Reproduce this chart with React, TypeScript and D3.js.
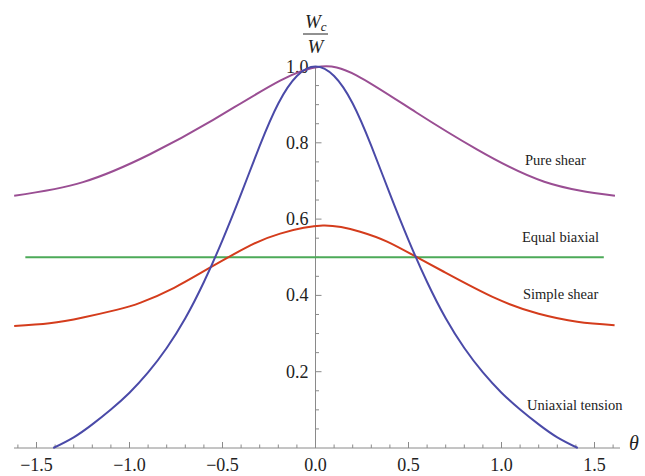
import React from "react";
import * as d3 from "d3";

// Angle samples (θ, radians) and ratio W_c / W for each loading mode
const uniaxialTheta = [-1.41, -1.3, -1.2, -1.1, -1.0, -0.9, -0.8, -0.7, -0.6, -0.5, -0.4, -0.3, -0.2, -0.1, 0, 0.1, 0.2, 0.3, 0.4, 0.5, 0.6, 0.7, 0.8, 0.9, 1.0, 1.1, 1.2, 1.3, 1.41];
const uniaxialValues = [0, 0.028, 0.062, 0.101, 0.145, 0.198, 0.262, 0.34, 0.435, 0.545, 0.666, 0.792, 0.903, 0.975, 1.0, 0.975, 0.903, 0.792, 0.666, 0.545, 0.435, 0.34, 0.262, 0.198, 0.145, 0.101, 0.062, 0.028, 0];

const pureShearTheta = [-1.62, -1.25, -0.89, -0.55, -0.19, 0.03, 0.22, 0.54, 0.87, 1.23, 1.61];
const pureShearValues = [0.661, 0.697, 0.77, 0.86, 0.963, 1.0, 0.977, 0.88, 0.782, 0.698, 0.661];

const simpleShearTheta = [-1.62, -1.43, -1.25, -1.07, -0.94, -0.76, -0.57, -0.35, -0.19, 0.04, 0.24, 0.385, 0.538, 0.69, 0.97, 1.2, 1.407, 1.608];
const simpleShearValues = [0.32, 0.327, 0.342, 0.362, 0.381, 0.42, 0.472, 0.531, 0.562, 0.583, 0.567, 0.541, 0.502, 0.462, 0.392, 0.352, 0.331, 0.322];

const equalBiaxialTheta = [-1.56, 1.55];
const equalBiaxialValues = [0.5, 0.5];

const seriesNames = ["Pure shear", "Equal biaxial", "Simple shear", "Uniaxial tension"];

const xTickValues = [-1.5, -1.0, -0.5, 0.0, 0.5, 1.0, 1.5];
const yTickValues = [0.2, 0.4, 0.6, 0.8, 1.0];

const WIDTH = 645;
const HEIGHT = 476;
const SERIF = "'Liberation Serif', 'Times New Roman', serif";

export default function App() {
  const x = d3.scaleLinear().domain([-1.5, 1.5]).range([36.5, 594.5]);
  const y = d3.scaleLinear().domain([0, 1]).range([448, 66.5]);

  const makeLine = (ts: number[], vs: number[]) =>
    d3
      .line<number>()
      .x((_, i) => x(ts[i]))
      .y((v) => y(v))
      .curve(d3.curveNatural)(vs) as string;

  const series = [
    { ts: pureShearTheta, vs: pureShearValues, color: "#9a4e93" },
    { ts: equalBiaxialTheta, vs: equalBiaxialValues, color: "#4caa58" },
    { ts: simpleShearTheta, vs: simpleShearValues, color: "#d43c1c" },
    { ts: uniaxialTheta, vs: uniaxialValues, color: "#4a4aa8" },
  ];

  const labelPos = [
    { x: 525, y: 165 },
    { x: 522, y: 242 },
    { x: 523, y: 299 },
    { x: 527, y: 410 },
  ];

  const x0 = x(0);
  const y0 = y(0);
  const axisColor = "#8a8a8a";

  const xMinor = d3.range(-16, 17).map((k) => k / 10).filter((v) => Math.abs((v * 2) % 1) > 1e-6);
  const yMinor = d3.range(1, 20).map((k) => k / 20).filter((v) => Math.abs((v * 5) % 1) > 1e-6 && Math.abs((v * 5) % 1 - 1) > 1e-6);

  return (
    <svg
      width={WIDTH}
      height={HEIGHT}
      style={{ position: "absolute", left: 0, top: 0, background: "#fff" }}
      fontFamily={SERIF}
    >
      {/* axes */}
      <line x1={14} x2={620} y1={y0} y2={y0} stroke={axisColor} strokeWidth={1} />
      <line x1={x0} x2={x0} y1={y0} y2={y(1)} stroke={axisColor} strokeWidth={1} />

      {/* x ticks */}
      {xTickValues.map((t) => (
        <line key={"xt" + t} x1={x(t)} x2={x(t)} y1={y0} y2={y0 - 6} stroke={axisColor} />
      ))}
      {xMinor.map((t) => (
        <line key={"xm" + t} x1={x(t)} x2={x(t)} y1={y0} y2={y0 - 3.5} stroke={axisColor} />
      ))}
      {xTickValues.map((t) => (
        <text key={"xl" + t} x={x(t)} y={471} textAnchor="middle" fontSize={18} fill="#222">
          {(t < 0 ? "\u2212" : "") + Math.abs(t).toFixed(1)}
        </text>
      ))}

      {/* y ticks */}
      {yTickValues.map((t) => (
        <line key={"yt" + t} x1={x0} x2={x0 + 6} y1={y(t)} y2={y(t)} stroke={axisColor} />
      ))}
      {yMinor.map((t) => (
        <line key={"ym" + t} x1={x0} x2={x0 + 3.5} y1={y(t)} y2={y(t)} stroke={axisColor} />
      ))}
      {yTickValues.map((t) => (
        <text key={"yl" + t} x={x0 - 7} y={y(t) + 6} textAnchor="end" fontSize={18} fill="#222">
          {t.toFixed(1)}
        </text>
      ))}

      {/* curves */}
      {series.map((s, i) => (
        <path key={"s" + i} d={makeLine(s.ts, s.vs)} fill="none" stroke={s.color} strokeWidth={2} strokeLinejoin="round" />
      ))}

      {/* curve labels */}
      {seriesNames.map((name, i) => (
        <text key={"n" + i} x={labelPos[i].x} y={labelPos[i].y} fontSize={14.5} fill="#222">
          {name}
        </text>
      ))}

      {/* axis titles */}
      <text x={629} y={450} fontSize={20} fontStyle="italic" fill="#222">θ</text>
      <text x={305} y={28} fontSize={19} fontStyle="italic" fill="#222">
        W<tspan fontSize={13} dy={3}>c</tspan>
      </text>
      <line x1={303} x2={328} y1={34} y2={34} stroke="#222" strokeWidth={1} />
      <text x={315.5} y={53} fontSize={19} fontStyle="italic" textAnchor="middle" fill="#222">W</text>
    </svg>
  );
}
